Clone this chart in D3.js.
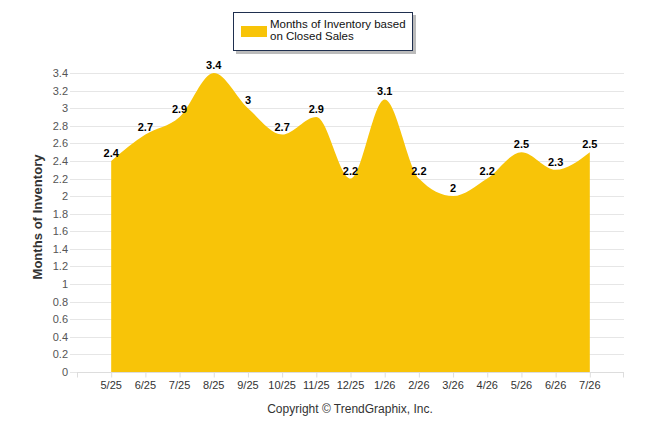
<!DOCTYPE html>
<html>
<head>
<meta charset="utf-8">
<script src="https://cdn.jsdelivr.net/npm/d3@7"></script>
<style>
  body { margin: 0; background: #fff; }
  svg { display: block; font-family: "Liberation Sans", Arial, sans-serif; }
</style>
</head>
<body>
<div id="chart"></div>
<script>
var months = ['5/25', '6/25', '7/25', '8/25', '9/25', '10/25', '11/25', '12/25',
              '1/26', '2/26', '3/26', '4/26', '5/26', '6/26', '7/26'];
var inventory = [2.4, 2.7, 2.9, 3.4, 3, 2.7, 2.9, 2.2, 3.1, 2.2, 2, 2.2, 2.5, 2.3, 2.5];
var yTicks = d3.range(0, 18).map(function(i) { return +(i * 0.2).toFixed(1); });
var seriesName = ['Months of Inventory based', 'on Closed Sales'];

var width = 646, height = 434,
    gold = '#f8c408';

var svg = d3.select('#chart').append('svg')
  .attr('width', width)
  .attr('height', height);

var x = d3.scalePoint()
  .domain(months)
  .range([77, 624])
  .padding(1);

var y = d3.scaleLinear()
  .domain([0, 3.4])
  .range([372, 73]);

// grid lines
svg.append('g')
  .selectAll('line')
  .data(yTicks)
  .join('line')
    .attr('x1', 70)
    .attr('x2', 624)
    .attr('y1', function(d) { return Math.round(y(d)) + 0.5; })
    .attr('y2', function(d) { return Math.round(y(d)) + 0.5; })
    .attr('stroke', '#e6e6e6');

// y labels
svg.append('g')
  .selectAll('text')
  .data(yTicks)
  .join('text')
    .attr('x', 68)
    .attr('y', function(d) { return y(d) + 4; })
    .attr('text-anchor', 'end')
    .attr('font-size', 11)
    .attr('fill', '#555')
    .text(function(d) { return d; });

svg.append('text')
  .attr('transform', 'translate(42,217) rotate(-90)')
  .attr('text-anchor', 'middle')
  .attr('font-size', 13)
  .attr('font-weight', 'bold')
  .attr('fill', '#333')
  .attr('textLength', 125)
  .text('Months of Inventory');

// area
var area = d3.area()
  .x(function(d, i) { return x(months[i]); })
  .y0(y(0))
  .y1(function(d) { return y(d); })
  .curve(d3.curveMonotoneX);

svg.append('path')
  .datum(inventory)
  .attr('d', area)
  .attr('fill', gold);

// x axis
var xAxis = d3.axisBottom(x).tickSize(5).tickSizeOuter(0).tickFormat('');
var gx = svg.append('g')
  .attr('transform', 'translate(0,' + (y(0) + 0.5) + ')')
  .call(xAxis);
gx.select('.domain').attr('stroke', '#ddd').attr('d', 'M77,0H624');
gx.selectAll('.tick line').attr('stroke', '#ddd');
gx.append('line').attr('x1', 77.5).attr('x2', 77.5).attr('y2', 5).attr('stroke', '#ddd');
gx.append('line').attr('x1', 623.5).attr('x2', 623.5).attr('y2', 5).attr('stroke', '#ddd');

svg.append('g')
  .selectAll('text')
  .data(months)
  .join('text')
    .attr('x', function(d) { return x(d); })
    .attr('y', 389)
    .attr('text-anchor', 'middle')
    .attr('font-size', 11)
    .attr('fill', '#333')
    .text(function(d) { return d; });

// value labels
svg.append('g')
  .selectAll('text')
  .data(inventory)
  .join('text')
    .attr('x', function(d, i) { return x(months[i]); })
    .attr('y', function(d) { return y(d) - 4; })
    .attr('text-anchor', 'middle')
    .attr('font-size', 11)
    .attr('font-weight', 'bold')
    .attr('fill', '#000')
    .text(function(d) { return d; });

// copyright
svg.append('text')
  .attr('x', 350)
  .attr('y', 413)
  .attr('text-anchor', 'middle')
  .attr('font-size', 12)
  .attr('fill', '#333')
  .text('Copyright \u00a9 TrendGraphix, Inc.');

// legend
var legend = svg.append('g');
legend.append('rect')
  .attr('x', 236).attr('y', 15).attr('width', 180).attr('height', 39)
  .attr('fill', '#bbb');
legend.append('rect')
  .attr('x', 233.5).attr('y', 12.5).attr('width', 179).attr('height', 38)
  .attr('fill', '#fff')
  .attr('stroke', '#1f2f4f');
legend.append('rect')
  .attr('x', 241).attr('y', 26).attr('width', 26).attr('height', 11)
  .attr('fill', gold);
legend.selectAll('text.name')
  .data(seriesName)
  .join('text')
    .attr('class', 'name')
    .attr('x', 270)
    .attr('y', function(d, i) { return 28 + i * 12; })
    .attr('font-size', 11.5)
    .attr('fill', '#111')
    .text(function(d) { return d; });
</script>
</body>
</html>
